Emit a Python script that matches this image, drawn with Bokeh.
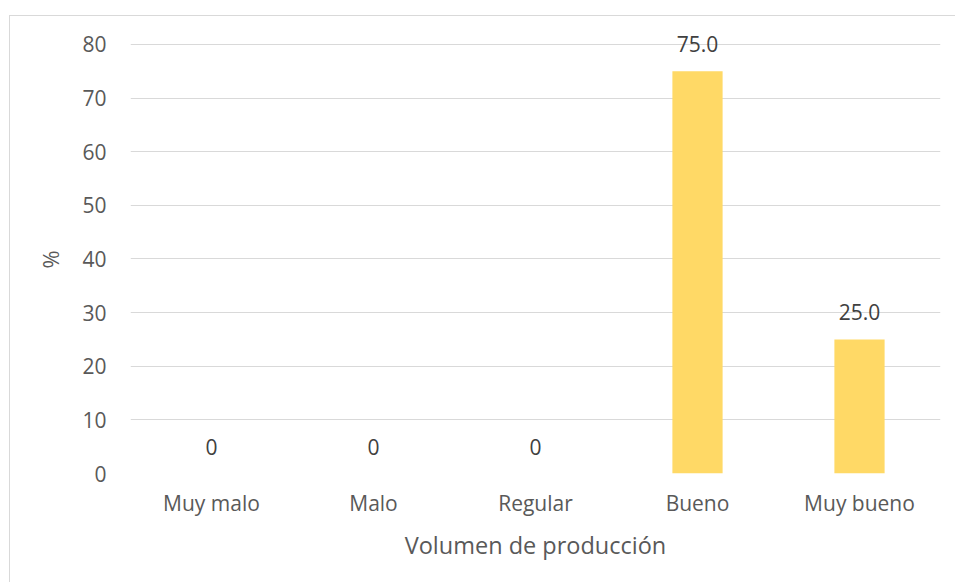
from bokeh.plotting import figure
from bokeh.models import ColumnDataSource, FactorRange, Range1d, FixedTicker, LabelSet
from bokeh.core.properties import value
from bokeh.embed import file_html
from bokeh.resources import INLINE

# Survey results: production volume rating (%)
categories = ["Muy malo", "Malo", "Regular", "Bueno", "Muy bueno"]
percentages = [0, 0, 0, 75.0, 25.0]
y_ticks = [0, 10, 20, 30, 40, 50, 60, 70, 80]

labels = ["0" if v == 0 else f"{v:.1f}" for v in percentages]
source = ColumnDataSource(data=dict(cat=categories, pct=percentages, lbl=labels))

FONT = "Open Sans"
TEXT = "#595959"
GRID = "#d9d9d9"

# the axis stops at 80; extra headroom above keeps the value labels inside the frame
p = figure(
    width=946, height=567,
    x_range=FactorRange(*categories, range_padding=0),
    y_range=Range1d(0, 85.22),
    output_backend="svg", toolbar_location=None,
    min_border_left=120, min_border_right=16,
    min_border_top=0, min_border_bottom=110,
)
# thin grey edge along the top and left of the chart area
p.styles = {
    "border-left": f"1px solid {GRID}",
    "border-top": f"1px solid {GRID}",
    "margin-left": "9px",
    "margin-top": "15px",
}
p.x_range.factor_padding = 0
p.outline_line_color = None
p.background_fill_color = "white"
p.border_fill_color = "white"

p.vbar(x="cat", top="pct", width=0.31, source=source,
       fill_color="#FFD966", line_color=None)

p.add_layout(LabelSet(x="cat", y="pct", text="lbl", source=source,
                      text_align="center", text_baseline="bottom", y_offset=19,
                      text_font=value(FONT), text_font_size="21px", text_color="#404040"))

p.xgrid.grid_line_color = None
p.ygrid.grid_line_color = GRID
p.ygrid.grid_line_width = 1
p.yaxis.ticker = FixedTicker(ticks=y_ticks)

for ax in (p.xaxis, p.yaxis):
    ax.axis_line_color = None
    ax.major_tick_line_color = None
    ax.minor_tick_line_color = None
    ax.major_label_text_font = FONT
    ax.major_label_text_font_size = "21px"
    ax.major_label_text_color = TEXT
    ax.axis_label_text_font = FONT
    ax.axis_label_text_font_style = "normal"
    ax.axis_label_text_color = TEXT

p.yaxis.major_label_standoff = 18
# padded with no-break spaces so the symbol sits centred on the 0-80 span
p.yaxis.axis_label = "%" + "\u00a0" * 5
p.yaxis.axis_label_text_font_size = "22px"
p.yaxis.axis_label_standoff = 14

p.xaxis.major_label_standoff = 9
p.xaxis.axis_label = "Volumen de producción"
p.xaxis.axis_label_text_font_size = "23.5px"
p.xaxis.axis_label_standoff = 9

open("out.html", "w").write(file_html(p, INLINE))
